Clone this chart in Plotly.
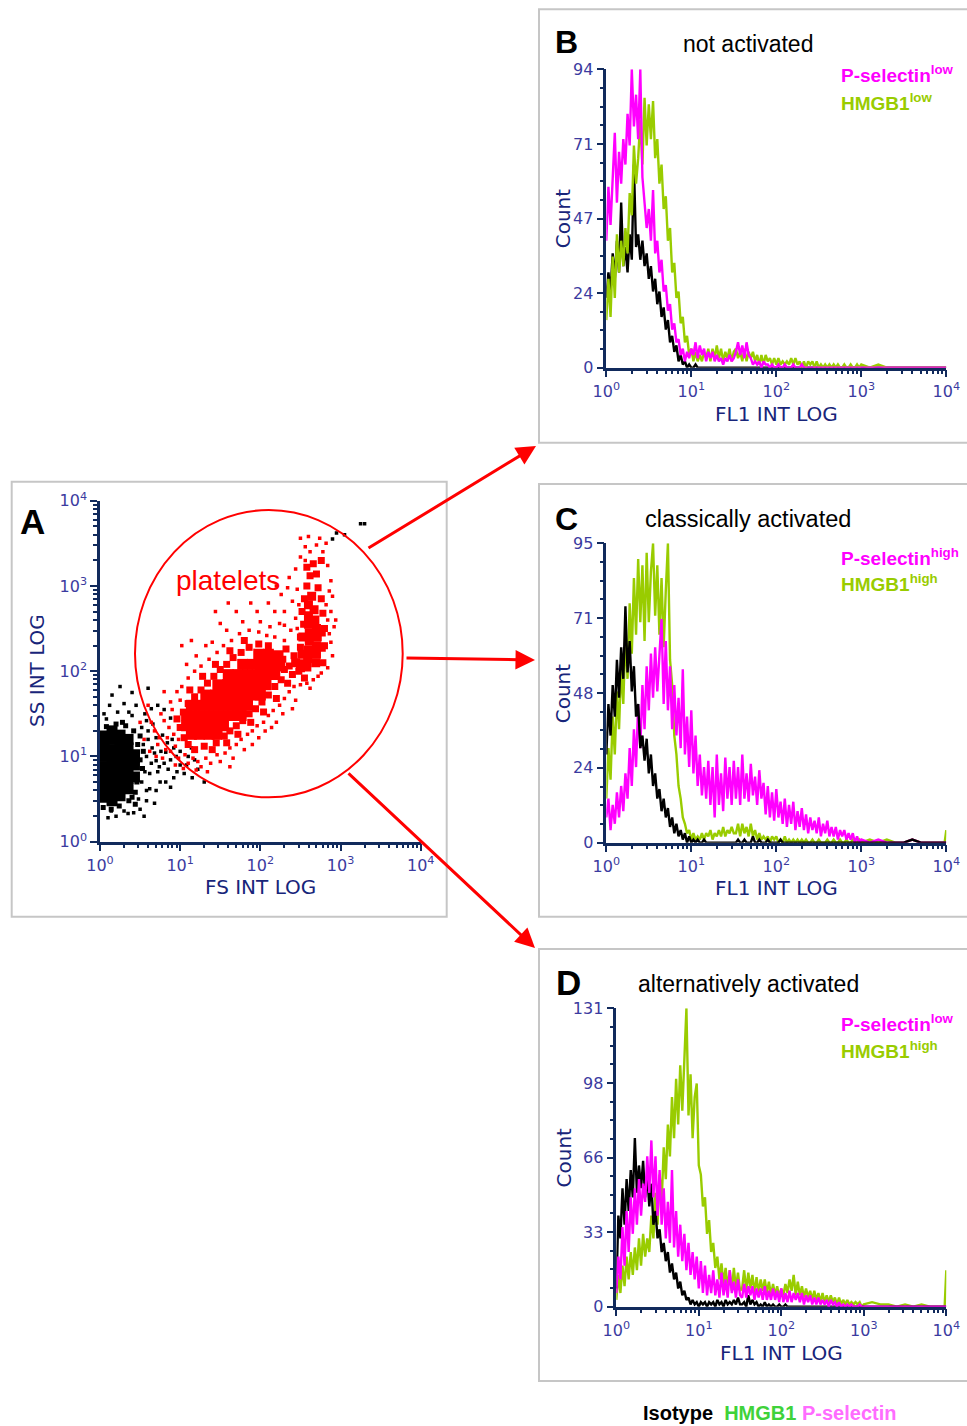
import plotly.graph_objects as go

# ---------------- DATA ----------------
# FL1 channel positions (log10 of intensity)
FL1_LOG = [0.000, 0.025, 0.050, 0.075, 0.100, 0.125, 0.150, 0.175, 0.200, 0.225,
           0.250, 0.275, 0.300, 0.325, 0.350, 0.375, 0.400, 0.425, 0.450, 0.475,
           0.500, 0.525, 0.550, 0.575, 0.600, 0.625, 0.650, 0.675, 0.700, 0.725,
           0.750, 0.775, 0.800, 0.825, 0.850, 0.875, 0.900, 0.925, 0.950, 0.975,
           1.000, 1.025, 1.050, 1.075, 1.100, 1.125, 1.150, 1.175, 1.200, 1.225,
           1.250, 1.275, 1.300, 1.325, 1.350, 1.375, 1.400, 1.425, 1.450, 1.475, 1.500,
           1.525, 1.550, 1.575, 1.600, 1.625, 1.650, 1.675, 1.700, 1.725, 1.750,
           1.775, 1.800, 1.825, 1.850, 1.875, 1.900, 1.925, 1.950, 1.975, 2.000,
           2.025, 2.050, 2.075, 2.100, 2.125, 2.150, 2.175, 2.200, 2.225, 2.250,
           2.275, 2.300, 2.325, 2.350, 2.375, 2.400, 2.425, 2.450, 2.475, 2.500,
           2.525, 2.550, 2.575, 2.600, 2.625, 2.650, 2.675, 2.700, 2.725, 2.750,
           2.775, 2.800, 2.825, 2.850, 2.875, 2.900, 2.925, 2.950, 2.975, 3.000,
           3.1, 3.2, 3.3, 3.4, 3.5, 3.6, 3.7, 3.8, 3.9, 3.98, 4.0]

# Panel B - not activated
B_ISO = [22, 30, 24, 36, 28, 40, 30, 52, 32, 38, 30, 42, 34, 64, 38, 42, 34, 40, 32, 36,
         28, 32, 24, 28, 20, 24, 16, 19, 12, 15, 8, 10, 5, 7, 2, 4, 1, 2, 0, 1,
         0, 0, 1, 0, 0, 0, 0, 0, 0, 0, 0, 0, 0, 0, 0, 0, 0, 0, 0, 0, 0,
         0, 0, 0, 0, 0, 0, 0, 0, 0, 0, 0, 0, 0, 0, 0, 0, 0, 0, 0, 0,
         0, 0, 0, 0, 0, 0, 0, 0, 0, 0, 0, 0, 0, 0, 0, 0, 0, 0, 0, 0,
         0, 0, 0, 0, 0, 0, 0, 0, 0, 0, 0, 0, 0, 0, 0, 0, 0, 0, 0, 0,
         0, 0, 0, 0, 0, 0, 0, 0, 0, 0, 0]
B_PSEL = [40, 57, 45, 60, 74, 52, 68, 58, 72, 64, 80, 70, 94, 76, 86, 72, 94, 60, 52, 44,
          50, 40, 56, 36, 40, 30, 34, 24, 26, 18, 20, 12, 14, 8, 9, 4, 6, 2, 5, 3,
          6, 4, 8, 3, 7, 4, 6, 2, 5, 3, 5, 2, 4, 2, 3, 1, 3, 2, 4, 2, 3,
          5, 8, 4, 7, 3, 8, 4, 3, 1, 2, 1, 2, 0, 2, 1, 1, 0, 1, 0, 0,
          1, 0, 0, 1, 0, 0, 0, 1, 0, 0, 0, 1, 0, 0, 0, 0, 0, 0, 0, 0,
          0, 0, 0, 0, 0, 0, 0, 0, 0, 0, 0, 0, 0, 0, 0, 0, 0, 0, 0, 0,
          0, 0, 0, 0, 0, 0, 0, 0, 0, 0, 0]
B_HMGB1 = [15, 28, 16, 35, 22, 42, 30, 40, 32, 44, 36, 55, 48, 70, 58, 66, 78, 64, 85, 70,
           83, 72, 84, 66, 72, 58, 64, 50, 54, 40, 44, 30, 33, 22, 24, 14, 16, 8, 10, 4,
           6, 2, 5, 2, 4, 2, 5, 3, 6, 2, 6, 3, 7, 3, 6, 2, 5, 3, 6, 2, 5,
           6, 3, 5, 2, 6, 2, 5, 3, 5, 2, 4, 1, 4, 1, 4, 2, 3, 1, 3, 1,
           3, 1, 2, 1, 2, 1, 3, 1, 3, 1, 2, 0, 2, 0, 2, 1, 2, 0, 2, 0,
           1, 0, 1, 0, 1, 0, 1, 0, 1, 0, 0, 1, 0, 0, 1, 0, 0, 1, 0, 1,
           0, 1, 0, 0, 0, 0, 0, 0, 0, 0, 0]

# Panel C - classically activated
C_ISO = [28, 44, 34, 50, 40, 58, 46, 62, 52, 75, 54, 64, 48, 56, 40, 44, 30, 34, 26, 33,
         22, 28, 18, 22, 14, 17, 10, 14, 8, 11, 5, 8, 3, 6, 2, 4, 1, 3, 0, 2,
         0, 1, 0, 1, 0, 0, 1, 0, 0, 0, 0, 0, 0, 0, 0, 0, 0, 0, 0, 0, 0,
         0, 1, 0, 0, 1, 0, 0, 0, 2, 0, 0, 1, 0, 0, 0, 1, 0, 0, 0, 0,
         0, 1, 0, 0, 0, 0, 0, 0, 0, 0, 0, 0, 0, 0, 0, 0, 0, 0, 0, 0,
         0, 0, 0, 0, 0, 0, 0, 0, 0, 0, 0, 0, 0, 0, 0, 0, 0, 0, 0, 0,
         0, 0, 0, 0, 0, 1, 0, 0, 0, 0, 0]
C_PSEL = [8, 14, 4, 12, 6, 16, 8, 18, 10, 22, 14, 30, 18, 36, 24, 44, 30, 50, 36, 56,
          42, 60, 46, 62, 48, 58, 71, 44, 64, 42, 56, 36, 50, 34, 46, 30, 55, 28, 40, 24,
          42, 22, 34, 18, 28, 15, 24, 14, 26, 12, 24, 8, 28, 12, 22, 10, 27, 14, 24, 12, 26,
          14, 24, 12, 28, 14, 22, 13, 25, 15, 21, 12, 23, 14, 19, 9, 18, 8, 16, 7, 17,
          8, 13, 6, 14, 5, 12, 6, 13, 4, 10, 5, 11, 4, 9, 3, 8, 4, 7, 3, 8,
          2, 6, 3, 7, 2, 5, 2, 5, 1, 4, 2, 4, 1, 3, 1, 3, 0, 2, 0, 1,
          0, 1, 0, 0, 0, 1, 0, 0, 0, 0, 0]
C_HMGB1 = [14, 30, 20, 40, 28, 48, 36, 56, 44, 66, 52, 76, 60, 84, 66, 90, 70, 88, 64, 92,
           70, 86, 95, 72, 88, 66, 84, 62, 80, 95, 58, 50, 34, 28, 18, 14, 8, 6, 3, 4,
           1, 3, 1, 2, 1, 3, 1, 3, 2, 4, 1, 3, 2, 4, 2, 5, 2, 4, 3, 5, 3,
           3, 6, 2, 6, 3, 5, 2, 6, 2, 4, 1, 3, 1, 2, 1, 2, 0, 2, 1, 2,
           0, 1, 0, 2, 0, 1, 0, 1, 0, 1, 0, 1, 0, 1, 0, 0, 1, 0, 0, 1,
           0, 0, 0, 1, 0, 0, 1, 0, 0, 1, 0, 0, 1, 0, 0, 1, 0, 0, 1, 0,
           1, 0, 1, 0, 0, 1, 0, 0, 0, 0, 4]

# Panel D - alternatively activated
D_ISO = [8, 40, 30, 52, 36, 56, 42, 60, 48, 74, 50, 62, 52, 64, 48, 58, 44, 54, 36, 42,
         30, 34, 24, 28, 20, 24, 15, 19, 12, 15, 8, 11, 5, 7, 3, 4, 1, 3, 1, 2,
         0, 2, 1, 2, 0, 2, 1, 2, 0, 3, 1, 2, 0, 3, 1, 2, 1, 3, 1, 4, 1,
         1, 2, 0, 5, 1, 3, 1, 2, 0, 1, 0, 2, 0, 1, 0, 1, 0, 0, 1, 0,
         0, 1, 0, 0, 0, 0, 0, 0, 0, 0, 0, 0, 0, 0, 0, 0, 0, 0, 0, 0,
         0, 0, 0, 0, 0, 0, 0, 0, 0, 0, 0, 0, 0, 0, 0, 0, 0, 0, 0, 0,
         0, 0, 0, 0, 0, 0, 0, 0, 0, 0, 0]
D_PSEL = [6, 22, 12, 35, 18, 42, 24, 48, 32, 52, 36, 56, 40, 54, 46, 66, 50, 73, 48, 66,
          40, 60, 36, 52, 30, 46, 28, 60, 26, 42, 22, 36, 20, 32, 16, 28, 14, 24, 12, 22,
          8, 20, 6, 18, 5, 14, 6, 16, 5, 12, 4, 15, 5, 12, 4, 16, 6, 11, 4, 12, 5,
          4, 10, 4, 9, 5, 9, 3, 8, 4, 8, 3, 9, 3, 7, 3, 8, 3, 7, 2, 8,
          2, 6, 2, 7, 2, 6, 3, 6, 2, 6, 1, 5, 2, 5, 1, 4, 1, 4, 1, 3,
          1, 3, 0, 3, 1, 2, 0, 2, 0, 1, 0, 1, 0, 1, 0, 0, 0, 1, 0, 0,
          0, 0, 0, 0, 0, 0, 0, 0, 0, 0, 0]
D_HMGB1 = [3, 14, 6, 18, 9, 22, 12, 24, 14, 26, 16, 30, 18, 32, 22, 30, 24, 40, 30, 50,
           36, 58, 46, 70, 56, 80, 66, 92, 74, 100, 80, 106, 86, 108, 131, 84, 102, 74, 92, 98,
           62, 58, 44, 48, 32, 38, 24, 28, 17, 22, 12, 19, 10, 17, 8, 16, 7, 17, 8, 15, 7,
           8, 16, 7, 15, 8, 14, 6, 13, 6, 12, 7, 12, 6, 11, 5, 10, 5, 9, 4, 8,
           5, 10, 6, 12, 7, 14, 5, 11, 5, 9, 4, 8, 4, 7, 3, 7, 3, 6, 2, 6,
           2, 5, 2, 5, 2, 4, 1, 4, 1, 3, 1, 3, 1, 2, 1, 2, 1, 2, 0, 1,
           2, 1, 1, 0, 1, 0, 1, 0, 0, 0, 16]

for s in (B_ISO, B_PSEL, B_HMGB1, C_ISO, C_PSEL, C_HMGB1, D_ISO, D_PSEL, D_HMGB1):
    assert len(s) == len(FL1_LOG), len(s)

Y_MAX = {"B": 94, "C": 95, "D": 131}
Y_TICKTEXT = {"B": ["0", "24", "47", "71", "94"],
              "C": ["0", "24", "48", "71", "95"],
              "D": ["0", "33", "66", "98", "131"]}
X_TICKTEXT = ["10<sup>0</sup>", "10<sup>1</sup>", "10<sup>2</sup>", "10<sup>3</sup>", "10<sup>4</sup>"]

# Panel A - FS / SS dot plot (log10 FS, log10 SS)
BLACK_CORE = [(0.05, 0.52), (0.05, 0.64), (0.05, 0.76), (0.05, 0.88), (0.05, 1.00), (0.05, 1.12),
              (0.05, 1.24), (0.15, 0.48), (0.15, 0.60), (0.15, 0.72), (0.15, 0.84), (0.15, 0.96),
              (0.15, 1.08), (0.15, 1.20), (0.15, 1.30), (0.25, 0.54), (0.25, 0.66), (0.25, 0.78),
              (0.25, 0.90), (0.25, 1.02), (0.25, 1.14), (0.25, 1.25), (0.35, 0.62), (0.35, 0.74),
              (0.35, 0.86), (0.35, 0.98), (0.35, 1.10), (0.35, 1.20), (0.43, 0.76), (0.43, 0.90),
              (0.43, 1.02)]
BLACK_MID = [(0.44, 0.58), (0.46, 0.70), (0.50, 0.96), (0.47, 1.14), (0.42, 1.30), (0.32, 1.36),
             (0.20, 1.38), (0.08, 1.35), (0.04, 0.40), (0.14, 0.38), (0.24, 0.42), (0.36, 0.48),
             (0.53, 0.86), (0.54, 1.06), (0.50, 1.24), (0.44, 0.44), (0.28, 1.40), (0.40, 0.52)]
BLACK_DOT = [(0.56, 1.50), (0.60, 1.30), (0.62, 0.80), (0.65, 1.10), (0.70, 0.95), (0.72, 1.60),
             (0.75, 0.70), (0.78, 1.25), (0.82, 1.05), (0.85, 0.85), (0.88, 1.45), (0.92, 0.75),
             (0.95, 1.00), (1.00, 0.90), (1.05, 0.80), (1.10, 1.00), (1.15, 0.75), (1.22, 0.85),
             (0.58, 0.60), (0.50, 0.38), (0.35, 0.33), (0.20, 0.30), (0.10, 0.28), (0.45, 1.60),
             (0.30, 1.62), (0.15, 1.72), (0.25, 1.82), (0.40, 1.75), (0.60, 1.80), (0.55, 0.30),
             (0.68, 0.45), (0.80, 1.55), (0.66, 1.38), (0.58, 1.00), (0.62, 0.62), (0.72, 0.82),
             (0.90, 1.20), (0.40, 1.48), (0.05, 1.50), (0.12, 1.60), (2.95, 3.62), (3.05, 3.60),
             (3.25, 3.73), (3.30, 3.73), (2.90, 3.55), (1.30, 0.70),
             (0.52, 0.70), (0.56, 0.82), (0.54, 1.14), (0.60, 1.20), (0.64, 0.92), (0.68, 1.04),
             (0.70, 1.22), (0.74, 0.88), (0.76, 1.06), (0.80, 0.92), (0.84, 1.16), (0.88, 0.96),
             (0.92, 1.10), (0.96, 0.82), (1.00, 1.06), (0.48, 0.50), (0.58, 0.48), (0.52, 1.34),
             (0.58, 1.42), (0.64, 1.56), (0.36, 1.52), (0.22, 1.52), (0.08, 1.44), (0.30, 0.36),
             (0.42, 0.34), (0.14, 0.36), (1.08, 0.90), (1.14, 1.10), (1.18, 0.96), (0.82, 0.70),
             (0.70, 0.60), (0.88, 0.64)]
RED_CORE = [(1.98, 2.20), (2.10, 2.20), (2.22, 2.18),
            (1.78, 2.08), (1.90, 2.08), (2.02, 2.08), (2.14, 2.08), (2.24, 2.06),
            (1.60, 1.96), (1.72, 1.96), (1.84, 1.96), (1.96, 1.96), (2.08, 1.96), (2.18, 1.96),
            (1.47, 1.84), (1.59, 1.84), (1.71, 1.84), (1.83, 1.84), (1.95, 1.84), (2.07, 1.84),
            (1.32, 1.72), (1.44, 1.72), (1.56, 1.72), (1.68, 1.72), (1.80, 1.72), (1.92, 1.72),
            (2.00, 1.72),
            (1.14, 1.60), (1.24, 1.60), (1.36, 1.60), (1.48, 1.60), (1.60, 1.60), (1.72, 1.60),
            (1.84, 1.60),
            (1.08, 1.48), (1.18, 1.48), (1.30, 1.48), (1.42, 1.48), (1.54, 1.48), (1.66, 1.48),
            (1.76, 1.48),
            (1.08, 1.36), (1.18, 1.36), (1.30, 1.36), (1.42, 1.36), (1.54, 1.36),
            (1.14, 1.26), (1.24, 1.26), (1.36, 1.26), (1.46, 1.26)]
RED_STREAK = [(2.58, 2.05), (2.69, 2.10), (2.59, 2.15), (2.70, 2.20), (2.60, 2.25), (2.70, 2.30),
              (2.61, 2.35), (2.71, 2.40), (2.61, 2.45), (2.70, 2.50), (2.60, 2.55), (2.68, 2.60),
              (2.60, 2.65), (2.67, 2.72), (2.60, 2.78), (2.64, 2.88), (2.52, 2.20), (2.53, 2.40),
              (2.76, 2.28), (2.76, 2.46), (2.50, 2.04), (2.44, 2.10)]
RED_MID = [(1.45, 1.16), (1.55, 1.24), (1.62, 1.30), (1.70, 1.36), (1.78, 1.42), (1.86, 1.50),
           (1.94, 1.56), (2.02, 1.64), (2.10, 1.72), (2.18, 1.82), (2.26, 1.90), (2.30, 2.02),
           (1.58, 1.16), (1.72, 1.26), (1.88, 1.40), (2.04, 1.52), (2.20, 1.68), (2.34, 1.86),
           (1.04, 1.52), (1.10, 1.62), (1.18, 1.70), (1.26, 1.78), (1.34, 1.86), (1.42, 1.94),
           (1.50, 2.02), (1.58, 2.08), (1.66, 2.16), (1.76, 2.22), (1.86, 2.28), (1.98, 2.32),
           (2.10, 2.30), (1.12, 1.78), (1.28, 1.94), (1.44, 2.08), (1.62, 2.24), (1.80, 2.36),
           (1.05, 1.22), (1.10, 1.14), (1.18, 1.08), (1.30, 1.12), (1.40, 1.08), (1.00, 1.34),
           (0.96, 1.44),
           (2.28, 2.14), (2.36, 2.06), (2.42, 2.18), (2.48, 2.00), (2.50, 2.28), (2.32, 2.26),
           (2.40, 1.96), (2.55, 1.92),
           (2.52, 2.10), (2.50, 2.40), (2.54, 2.55), (2.52, 2.70), (2.55, 2.85), (2.58, 3.00),
           (2.62, 3.12), (2.78, 2.10), (2.80, 2.30), (2.80, 2.50), (2.78, 2.68), (2.76, 2.85),
           (2.72, 2.98), (2.70, 3.14), (2.66, 3.26), (2.58, 3.22), (2.76, 3.30)]
RED_DOT = [(0.55, 1.20), (0.62, 1.06), (0.68, 1.30), (0.72, 1.14), (0.78, 0.98), (0.80, 1.42),
           (0.84, 1.22), (0.88, 1.06), (0.90, 1.55), (0.94, 1.12), (0.98, 0.98), (1.00, 1.66),
           (1.06, 1.02), (1.10, 0.92), (1.16, 0.98), (1.22, 0.94), (1.26, 0.88), (1.32, 0.98),
           (1.38, 0.92), (1.46, 1.02), (1.50, 0.94), (0.74, 1.22), (0.86, 1.34), (0.92, 1.26),
           (0.98, 1.20), (0.82, 1.08), (0.70, 1.00), (0.64, 1.40), (0.76, 1.50), (0.94, 0.90),
           (1.04, 0.86), (1.20, 0.84), (1.34, 0.82), (0.88, 1.64), (0.96, 1.76),
           (1.56, 1.04), (1.62, 1.10), (1.70, 1.14), (1.76, 1.20), (1.84, 1.26), (1.90, 1.30),
           (1.96, 1.36), (2.04, 1.40), (2.10, 1.48), (2.16, 1.54), (2.24, 1.60), (2.30, 1.68),
           (2.36, 1.76), (2.42, 1.82), (2.50, 1.84), (2.58, 1.86), (2.66, 1.90), (1.66, 0.98),
           (1.80, 1.08), (1.98, 1.22), (2.14, 1.34), (2.28, 1.50), (2.44, 1.66), (1.90, 1.14),
           (2.06, 1.30), (2.62, 1.80), (2.72, 1.94),
           (1.02, 1.82), (1.10, 1.92), (1.18, 2.00), (1.26, 2.06), (1.36, 2.14), (1.46, 2.22),
           (1.54, 2.30), (1.64, 2.36), (1.74, 2.44), (1.86, 2.48), (1.98, 2.46), (2.08, 2.42),
           (2.18, 2.40), (1.20, 2.18), (1.40, 2.34), (1.58, 2.48), (1.78, 2.58), (2.00, 2.58),
           (2.12, 2.52), (1.08, 2.08), (1.32, 2.30), (1.50, 2.56), (1.70, 2.70), (1.96, 2.70),
           (2.24, 2.56), (1.44, 2.70), (1.14, 2.36),
           (2.30, 2.36), (2.38, 2.48), (2.44, 2.62), (2.30, 2.70), (2.40, 2.82), (2.46, 2.96),
           (2.36, 3.10), (2.44, 3.20), (2.50, 3.34), (2.56, 3.46), (2.62, 3.40), (2.70, 3.48),
           (2.78, 3.40), (2.84, 3.24), (2.88, 3.06), (2.90, 2.88), (2.88, 2.70), (2.92, 2.52),
           (2.88, 2.34), (2.90, 2.18), (2.84, 2.04), (2.76, 1.98), (2.50, 3.56), (2.60, 3.58),
           (2.74, 3.56), (2.82, 3.50), (2.26, 2.90), (2.20, 3.00), (2.34, 2.98), (2.94, 2.60),
           (2.86, 2.94), (2.46, 2.50), (2.48, 2.78), (2.82, 2.78), (2.84, 2.60), (2.86, 2.44),
           (2.30, 2.54), (2.18, 2.70), (2.56, 3.30),
           (0.50, 1.40), (0.60, 1.60), (1.62, 0.88), (1.02, 2.30), (1.88, 2.80), (2.10, 2.80),
           (1.60, 2.80), (0.80, 1.76), (2.20, 1.40), (2.40, 1.56)]

# ---------------- STYLE ----------------
W, H = 967, 1426
NAVY = "#112a5c"
TICK_COL = "#3b3ba0"
TITLE_COL = "#18257a"
MAGENTA = "#ff00ff"
GREEN = "#99cc00"


def px(x):
    return x / W


def py(y):
    return 1 - y / H


fig = go.Figure()


def dots(points, color, size, axis, symbol="square"):
    fig.add_trace(go.Scatter(
        x=[10 ** p[0] for p in points], y=[10 ** p[1] for p in points],
        mode="markers", xaxis="x" + axis, yaxis="y" + axis,
        marker=dict(color=color, size=size, symbol=symbol, line=dict(width=0)),
        hoverinfo="skip"))


dots(BLACK_CORE, "black", 11, "")
dots(BLACK_MID, "black", 5, "")
dots(BLACK_DOT, "black", 3.5, "")
dots(RED_DOT, "#ff0000", 3.5, "")
dots(RED_MID, "#ff0000", 7, "")
dots(RED_CORE, "#ff0000", 11, "")
dots(RED_STREAK, "#ff0000", 9, "")

fl1 = [10 ** v for v in FL1_LOG]


def hist(vals, color, axis):
    fig.add_trace(go.Scatter(x=fl1, y=vals, mode="lines", xaxis="x" + axis, yaxis="y" + axis,
                             line=dict(color=color, width=2.4), hoverinfo="skip"))


hist(B_ISO, "black", "2")
hist(B_HMGB1, GREEN, "2")
hist(B_PSEL, MAGENTA, "2")

hist(C_HMGB1, GREEN, "3")
hist(C_PSEL, MAGENTA, "3")
hist(C_ISO, "black", "3")

hist(D_HMGB1, GREEN, "4")
hist(D_ISO, "black", "4")
hist(D_PSEL, MAGENTA, "4")

MINOR_LOG = [m * 10 ** d for d in range(4) for m in range(2, 10)]

base = dict(showline=True, linecolor=NAVY, linewidth=2.5, ticks="outside", ticklen=7,
            tickwidth=2, tickcolor=NAVY, showgrid=False, zeroline=False, automargin=False,
            tickfont=dict(family="DejaVu Sans", size=16, color=TICK_COL))


def log_axis(domain, anchor):
    return dict(base, type="log", range=[0, 4], domain=domain, anchor=anchor,
                tickmode="array", tickvals=[1, 10, 100, 1000, 10000], ticktext=X_TICKTEXT,
                minor=dict(ticks="outside", ticklen=4, tickwidth=1.5, tickcolor=NAVY,
                           tickvals=MINOR_LOG, showgrid=False))


def count_axis(domain, anchor, key):
    m = Y_MAX[key]
    return dict(base, type="linear", range=[0, m], domain=domain, anchor=anchor,
                tickmode="array", tickvals=[0, m / 4, m / 2, 3 * m / 4, m],
                ticktext=Y_TICKTEXT[key],
                tickfont=dict(family="DejaVu Sans", size=16, color=TICK_COL),
                minor=dict(ticks="outside", ticklen=4, tickwidth=1.5, tickcolor=NAVY,
                           tick0=0, dtick=m / 16, showgrid=False))


fig.update_layout(
    width=W, height=H, margin=dict(l=0, r=0, t=0, b=0, pad=0, autoexpand=False),
    autosize=False,
    paper_bgcolor="white", plot_bgcolor="white", showlegend=False,
    xaxis=log_axis([px(100), px(420.7)], "y"),
    yaxis=dict(log_axis([py(841.7), py(500.7)], "x")),
    xaxis2=log_axis([px(606.3), px(946.3)], "y2"),
    yaxis2=count_axis([py(367.7), py(69.3)], "x2", "B"),
    xaxis3=log_axis([px(606.3), px(946.3)], "y3"),
    yaxis3=count_axis([py(842.7), py(543.3)], "x3", "C"),
    xaxis4=log_axis([px(616.3), px(946.3)], "y4"),
    yaxis4=count_axis([py(1306.7), py(1008.3)], "x4", "D"),
)

# panel frames and gate circle
shapes = []
for (x0, y0, x1, y1) in [(11.7, 481.7, 446.7, 916.7), (539, 9.3, 985, 442.7),
                         (539, 484, 985, 916.7), (539, 949, 985, 1381)]:
    shapes.append(dict(type="rect", xref="paper", yref="paper", x0=px(x0), x1=px(x1),
                       y0=py(y1), y1=py(y0), line=dict(color="#c6c6c6", width=2)))
shapes.append(dict(type="circle", xref="paper", yref="paper", x0=px(135), x1=px(402.7),
                   y0=py(797.3), y1=py(510), line=dict(color="#ff0000", width=2)))
fig.update_layout(shapes=shapes)

ann = []


def text(x, y, s, size, color="black", family="Liberation Sans", bold=False, angle=0,
         xanchor="center"):
    ann.append(dict(x=px(x), y=py(y), xref="paper", yref="paper", showarrow=False,
                    text=("<b>%s</b>" % s) if bold else s, textangle=angle,
                    xanchor=xanchor, yanchor="middle",
                    font=dict(family=family, size=size, color=color)))


# panel letters
text(32, 521, "A", 35, bold=True)
text(566, 42, "B", 32, bold=True)
text(566, 519, "C", 32, bold=True)
text(568.5, 982.5, "D", 35, bold=True)

# panel titles
text(748, 44, "not activated", 23)
text(748, 519, "classically activated", 23.5)
text(748.7, 984, "alternatively activated", 23)

# in-panel labels
text(838.5, 74, "P-selectin<sup>low</sup>", 19, MAGENTA, bold=True, xanchor="left")
text(838.5, 101.5, "HMGB1<sup>low</sup>", 19, GREEN, bold=True, xanchor="left")
text(838.5, 556.5, "P-selectin<sup>high</sup>", 19, MAGENTA, bold=True, xanchor="left")
text(838.5, 583.5, "HMGB1<sup>high</sup>", 19, GREEN, bold=True, xanchor="left")
text(838.5, 1023, "P-selectin<sup>low</sup>", 19, MAGENTA, bold=True, xanchor="left")
text(838.5, 1050, "HMGB1<sup>high</sup>", 19, GREEN, bold=True, xanchor="left")

# axis titles
text(260, 887, "FS INT LOG", 20, TITLE_COL, family="DejaVu Sans")
text(37, 671, "SS INT LOG", 20, TITLE_COL, family="DejaVu Sans", angle=-90)
for (cx, cy) in [(776.3, 414), (776.3, 888.3), (781.3, 1353.3)]:
    text(cx, cy, "FL1 INT LOG", 20, TITLE_COL, family="DejaVu Sans")
for cy in [218.3, 693.3, 1157.5]:
    text(563, cy, "Count", 20, TITLE_COL, family="DejaVu Sans", angle=-90)

# gate label
text(228.3, 580, "platelets", 28, "#ff0000")

# bottom colour key
text(769.5, 1413,
     "<span style='color:black'>Isotype</span>  "
     "<span style='color:#3fd23a'>HMGB1</span> "
     "<span style='color:#ff6cff'>P-selectin</span>", 20, bold=True)

# arrows from the gate to the histogram panels
for (hx, hy, tx, ty) in [(536, 446, 367, 549), (535, 660, 405, 658), (535, 948, 347, 772)]:
    ann.append(dict(x=px(hx), y=py(hy), xref="paper", yref="paper", text="",
                    showarrow=True, axref="pixel", ayref="pixel",
                    ax=tx - hx, ay=ty - hy, arrowhead=2, arrowsize=1.3,
                    arrowwidth=3, arrowcolor="#ff0000", standoff=0))

fig.update_layout(annotations=ann)

fig.write_html("out.html", include_plotlyjs=True, config={"displayModeBar": False},
               post_script="document.body.style.margin='0px';")
